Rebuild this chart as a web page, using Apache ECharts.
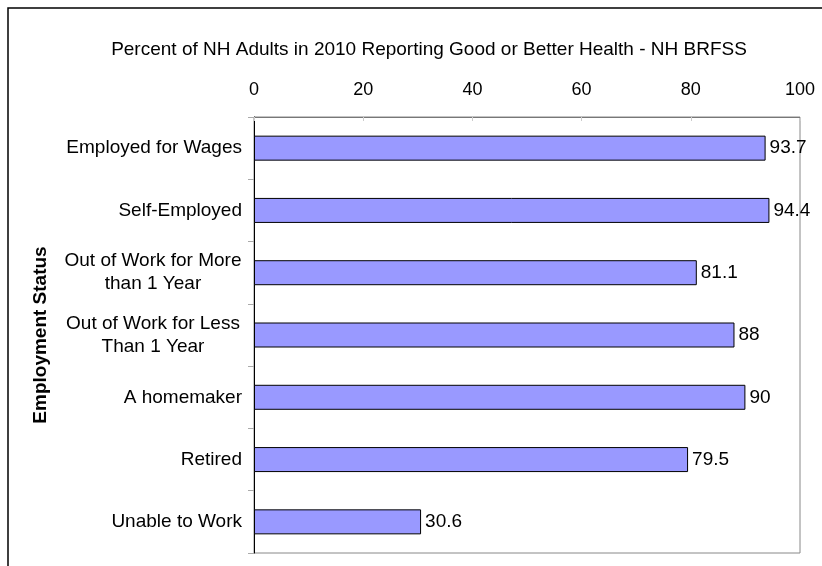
<!DOCTYPE html>
<html><head><meta charset="utf-8">
<script src="https://cdn.jsdelivr.net/npm/echarts@6/dist/echarts.min.js"></script>
<style>html,body{margin:0;padding:0;background:#fff}#c{width:822px;height:566px}</style>
</head><body><div id="c"></div>
<script>
const categories = ["Employed for Wages","Self-Employed","Out of Work for More\nthan 1 Year","Out of Work for Less\nThan 1 Year","A homemaker","Retired","Unable to Work"];
const values = [93.7, 94.4, 81.1, 88, 90, 79.5, 30.6];
const xTicks = [0, 20, 40, 60, 80, 100];

const chart = echarts.init(document.getElementById('c'));
const F = '"Liberation Sans", Arial, sans-serif';
const catData = categories.map(c => c.indexOf('\n') >= 0
  ? { value: c, textStyle: { align: 'center', padding: [0, 178, 0, 0] } }
  : c);
chart.setOption({
  animation: false,
  title: {
    text: 'Percent of NH Adults in 2010 Reporting Good or Better Health - NH BRFSS',
    left: 424, top: 35, textAlign: 'center',
    textStyle: { fontFamily: F, fontSize: 19, fontWeight: 'normal', color: '#000' }
  },
  graphic: [
    { type: 'rect', shape: { x: 8, y: 8, width: 900, height: 700 }, style: { fill: 'none', stroke: '#000', lineWidth: 1.5 }, silent: true },
    { type: 'rect', shape: { x: 254, y: 117, width: 546, height: 436 }, style: { fill: 'none', stroke: '#888', lineWidth: 1 }, silent: true, z: 0 }
  ],
  grid: { left: 254, right: 22, top: 117, bottom: 13 },
  xAxis: {
    type: 'value', position: 'top', min: 0, max: 100, interval: 20,
    axisLine: { show: true, lineStyle: { color: '#777' } },
    axisTick: { show: true, length: 4, inside: true, lineStyle: { color: '#ccc' } },
    splitLine: { show: false },
    axisLabel: { fontFamily: F, fontSize: 18, color: '#000', margin: 18,
      formatter: v => xTicks.includes(v) ? String(v) : '' }
  },
  yAxis: {
    type: 'category', data: catData, inverse: true,
    name: 'Employment Status', nameLocation: 'middle', nameGap: 204, nameRotate: 90,
    nameTextStyle: { fontFamily: F, fontSize: 19, fontWeight: 'bold', color: '#000' },
    axisLine: { show: true, lineStyle: { color: '#000' } },
    axisTick: { show: true, length: 6, lineStyle: { color: '#aaa' } },
    axisLabel: { fontFamily: F, fontSize: 19, color: '#000', margin: 12, lineHeight: 23, align: 'right' }
  },
  series: [{
    type: 'bar', data: values, barWidth: 25,
    itemStyle: { color: '#9999ff', borderColor: '#000', borderWidth: 1 },
    label: { show: true, position: 'right', distance: 4, fontFamily: F, fontSize: 19, color: '#000' }
  }]
});
</script></body></html>
